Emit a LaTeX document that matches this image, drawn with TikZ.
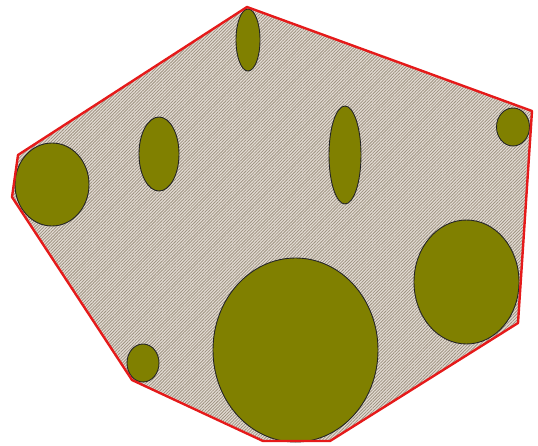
\documentclass[tikz,border=0pt]{standalone}
\usetikzlibrary{patterns.meta}
\definecolor{olivefill}{HTML}{808000}
\definecolor{hullred}{HTML}{E51A1A}
\definecolor{hullbg}{HTML}{E4DDD4}
\definecolor{hatch}{HTML}{9E9282}

\begin{document}
\begin{tikzpicture}[x=1pt, y=-1pt, line join=round,
  blob/.style={fill=olivefill, draw=black!85, line width=0.9pt}]

\useasboundingbox (0,0) rectangle (538,445);

% Hull vertices
\coordinate (p1) at (247,7);
\coordinate (p2) at (532,111);
\coordinate (p3) at (518,323);
\coordinate (p4) at (330,441);
\coordinate (p5) at (263,441);
\coordinate (p6) at (132,380);
\coordinate (p7) at (12,197);
\coordinate (p8) at (18,155);

% Hull fill (hatched)
\fill[hullbg] (p1) -- (p2) -- (p3) -- (p4) -- (p5) -- (p6) -- (p7) -- (p8) -- cycle;
\fill[pattern={Lines[angle=45, distance=2.2pt, line width=0.8pt]}, pattern color=hatch]
  (p1) -- (p2) -- (p3) -- (p4) -- (p5) -- (p6) -- (p7) -- (p8) -- cycle;

% Ellipses: centre x, centre y, x radius, y radius
\foreach \cx/\cy/\rx/\ry in {248/40/12/31, 52/184.5/37/41.5, 159/154/20/37,
    345/155/16/49, 513/127/16.5/19, 466.5/282/52.5/62, 295.5/350/82.5/92,
    143/363/16/19} {
  \draw[blob] (\cx,\cy) ellipse[x radius=\rx, y radius=\ry];
}

% Hull outline
\draw[hullred, line width=2.4pt]
  (p1) -- (p2) -- (p3) -- (p4) -- (p5) -- (p6) -- (p7) -- (p8) -- cycle;

\end{tikzpicture}
\end{document}
